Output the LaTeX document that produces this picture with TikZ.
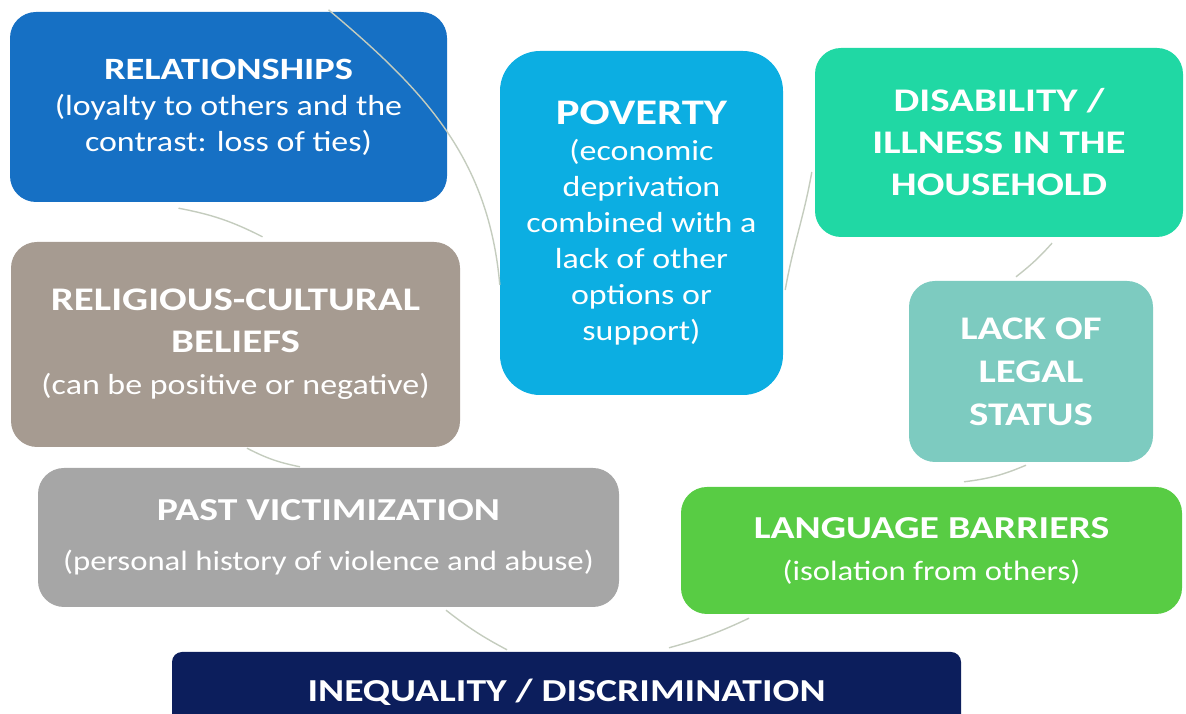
\documentclass[tikz,border=0pt]{standalone}
\usepackage{fontspec}
\setmainfont{Carlito}[FakeStretch=1.17, BoldFeatures={FakeStretch=1.24}]
\usetikzlibrary{calc}

\definecolor{relblue}{RGB}{22,112,196}
\definecolor{povblue}{RGB}{12,174,226}
\definecolor{disgreen}{RGB}{32,216,164}
\definecolor{religtaupe}{RGB}{166,155,145}
\definecolor{legalteal}{RGB}{125,203,192}
\definecolor{pastgray}{RGB}{166,166,166}
\definecolor{langgreen}{RGB}{88,204,68}
\definecolor{ineqnavy}{RGB}{12,30,92}
\definecolor{linkgray}{RGB}{196,204,190}

% title line in bold at a given size
\newcommand{\hd}[2]{{\fontsize{#1}{#1}\selectfont\bfseries #2}}

\begin{document}
\begin{tikzpicture}[
    x=1pt, y=1pt,
    box/.style={rectangle, rounded corners=26pt, text=white, align=center, inner sep=0pt},
    link/.style={draw=linkgray, line width=1.4pt}
]
\clip (0,0) rectangle (1186,714);

% Nodes
\node (rel) [box, fill=relblue, minimum width=437pt, minimum height=190pt,
    font=\fontsize{29}{36}\selectfont] at (228.5,607)
    {\hd{31}{RELATIONSHIPS}\\(loyalty to others and the\\contrast: loss of ties)};
\node (pov) [box, fill=povblue, rounded corners=40pt, minimum width=283pt, minimum height=344pt,
    font=\fontsize{29}{36}\selectfont] at (641.5,491)
    {\hd{36}{POVERTY}\\(economic\\deprivation\\combined with a\\lack of other\\options or\\support)};
\node (dis) [box, fill=disgreen, minimum width=368pt, minimum height=189pt,
    font=\fontsize{33}{42}\selectfont\bfseries] at (999,571.5)
    {DISABILITY /\\ILLNESS IN THE\\HOUSEHOLD};
\node (relig) [box, fill=religtaupe, minimum width=449pt, minimum height=205pt,
    font=\fontsize{29}{42}\selectfont] at (235.5,369.5)
    {\hd{33}{RELIGIOUS-CULTURAL}\\\hd{33}{BELIEFS}\\(can be positive or negative)};
\node (legal) [box, fill=legalteal, minimum width=244pt, minimum height=181pt,
    font=\fontsize{33}{43}\selectfont\bfseries] at (1031,342.5)
    {LACK OF\\LEGAL\\STATUS};
\node (past) [box, fill=pastgray, minimum width=581pt, minimum height=139pt,
    font=\fontsize{28}{50}\selectfont] at (328.5,176.5)
    {\hd{32}{PAST VICTIMIZATION}\\(personal history of violence and abuse)};
\node (lang) [box, fill=langgreen, minimum width=501pt, minimum height=127pt,
    font=\fontsize{28}{42}\selectfont] at (931.5,163.5)
    {\hd{32}{LANGUAGE BARRIERS}\\(isolation from others)};
\node (ineq) [box, fill=ineqnavy, rounded corners=10pt, minimum width=789pt, minimum height=80pt,
    font=\fontsize{32}{36}\selectfont\bfseries] at (566.5,22)
    {INEQUALITY / DISCRIMINATION};

% Connections
\draw [link] ($(rel.south)+(-50,-6)$) to[bend left=8] ($(relig.north)+(27,5)$);
\draw [link] ($(rel.north)+(100,2)$) to[out=-40, in=95] ($(pov.west)+(0,-62)$);
\draw [link] ($(pov.east)+(2,-67)$) to[out=80, in=-100] ($(dis.west)+(-3,-29.5)$);
\draw [link] ($(dis.south)+(53,-6)$) to[bend left=5] ($(legal.north)+(-15,4)$);
\draw [link] ($(legal.south)+(-5,-3)$) to[bend left=8] ($(lang.north)+(32.5,5)$);
\draw [link] ($(lang.south)+(-182.5,-4)$) to[bend left=5] ($(ineq.north)+(102.5,4)$);
\draw [link] ($(past.south)+(117.5,-3)$) to[bend right=5] ($(ineq.north)+(-59.5,2)$);
\draw [link] ($(relig.south)+(11.5,-1)$) to[bend right=8] ($(past.north)+(-28.5,1)$);

\end{tikzpicture}
\end{document}
